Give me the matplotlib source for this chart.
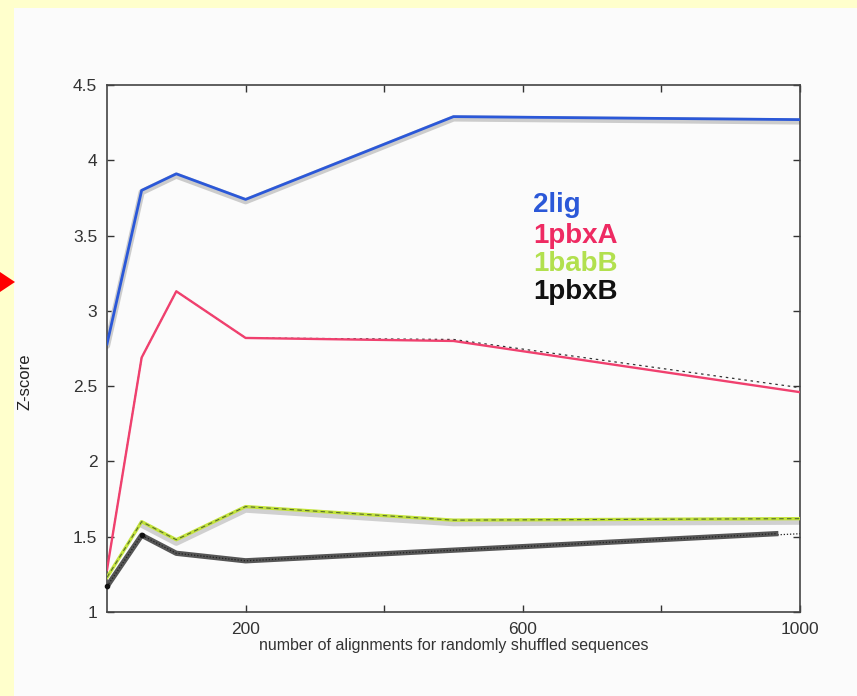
import matplotlib
matplotlib.use("Agg")
import matplotlib.pyplot as plt
from matplotlib.patches import Rectangle, Polygon

plt.rcParams['font.family'] = ['Liberation Sans', 'DejaVu Sans']

# number of alignments
n_align = [0, 50, 100, 200, 500, 1000]

z_2lig = [2.78, 3.80, 3.91, 3.74, 4.29, 4.27]
z_1pbxA = [1.28, 2.69, 3.13, 2.82, 2.80, 2.46]
z_1pbxA_ref = [1.28, 2.69, 3.13, 2.82, 2.81, 2.49]
z_1babB = [1.23, 1.60, 1.48, 1.70, 1.61, 1.62]
z_1pbxB = [1.17, 1.51, 1.39, 1.34, 1.52]
n_1pbxB = [0, 50, 100, 200, 1000]
# hand-traced overlay for 1pbxB stops short of the last point
n_1pbxB_trace = [0, 50, 100, 200, 965]
z_1pbxB_trace = [1.17, 1.51, 1.39, 1.34, 1.52]

names = ['2lig', '1pbxA', '1babB', '1pbxB']
name_colors = ['#2b58d8', '#ee2a62', '#b2e04e', '#111111']

xticks = [200, 400, 600, 800, 1000]
xticklabels = ['200', '', '600', '', '1000']
yticks = [1, 1.5, 2, 2.5, 3, 3.5, 4, 4.5]
yticklabels = ['1', '1.5', '2', '2.5', '3', '3.5', '4', '4.5']

W, H = 857, 696
fig = plt.figure(figsize=(W / 100, H / 100), dpi=100)
fig.patch.set_facecolor('#ffffcc')

# white sheet and the little red marker on the left edge
fig.patches.append(Rectangle((14 / W, 0), 1 - 14 / W, 1 - 8 / H,
                             transform=fig.transFigure, facecolor='#fbfbfb',
                             edgecolor='none', zorder=-2))
fig.patches.append(Polygon([(0, 1 - 272 / H), (0, 1 - 292 / H), (15 / W, 1 - 282 / H)],
                           closed=True, transform=fig.transFigure,
                           facecolor='#ff0000', edgecolor='none', zorder=-1))

ax = fig.add_axes([107 / W, 1 - 612 / H, 693 / W, 527 / H])
ax.set_facecolor('none')
ax.set_xlim(0, 1000)
ax.set_ylim(1, 4.5)

# faint gray shadows under the traced lines
ax.plot(n_align, [v - 0.012 for v in z_2lig], color='#cccccc', lw=4.5, zorder=2,
        solid_capstyle='round')
ax.plot(n_align[1:], [v - 0.02 for v in z_1babB[1:]], color='#d0d0d0', lw=4.5, zorder=2)

ax.plot(n_align, z_2lig, color='#2b58d8', lw=2.0, zorder=4)

ax.plot(n_align, z_1pbxA_ref, color='#333333', lw=0.9, ls=(0, (2, 3)), zorder=3)
ax.plot(n_align, z_1pbxA, color='#f0406e', lw=1.7, zorder=4)

ax.plot(n_align, z_1babB, color='#c3e33a', lw=2.4, zorder=4)
ax.plot(n_align, z_1babB, color='#556b2f', lw=0.8, ls=(0, (4, 3)), zorder=5)

ax.plot(n_1pbxB, z_1pbxB, color='#222222', lw=0.9, ls=(0, (1, 1.5)), zorder=3)
ax.plot(n_1pbxB_trace, z_1pbxB_trace, color='#555555', lw=3.8, zorder=4)
ax.plot(n_1pbxB_trace, z_1pbxB_trace, color='#222222', lw=0.9, ls=(0, (1, 1.5)), zorder=5)
ax.plot(n_1pbxB_trace[:2], z_1pbxB_trace[:2], 'o', color='#111111', ms=3, zorder=6,
        clip_on=False)

ax.set_xticks(xticks)
ax.set_xticklabels(xticklabels)
ax.set_yticks(yticks)
ax.set_yticklabels(yticklabels)
ax.tick_params(direction='in', length=5, width=1, color='#333333',
               labelcolor='#333333', labelsize=12.5, top=True, right=True)
ax.tick_params(axis='x', pad=7)
ax.tick_params(axis='y', pad=7)
for sp in ax.spines.values():
    sp.set_color('#444444')
    sp.set_linewidth(1.2)

ax.set_xlabel('number of alignments for randomly shuffled sequences',
              fontsize=11.5, color='#333333', labelpad=1)
fig.text(25 / W, 1 - 382 / H, 'Z-score', rotation=90, ha='center', va='center',
         fontsize=12, color='#222222')

label_y = [205, 236, 264, 292]
for name, c, y in zip(names, name_colors, label_y):
    fig.text(533 / W, 1 - y / H, name, color=c, fontsize=20, fontweight='bold',
             ha='left', va='center')

fig.savefig('out.png', dpi=100, facecolor=fig.get_facecolor())
